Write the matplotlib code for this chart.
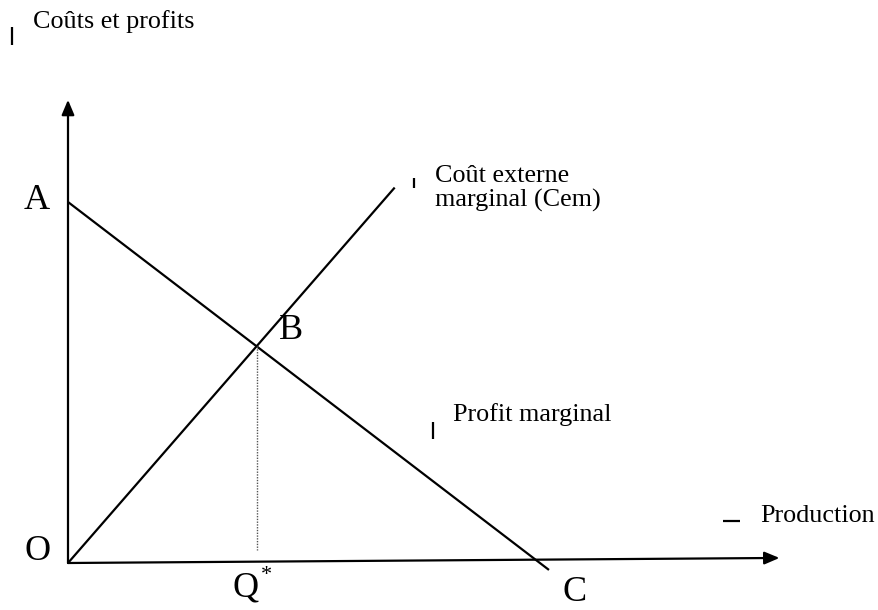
import matplotlib
matplotlib.use('Agg')
import matplotlib.pyplot as plt
import numpy as np

plt.rcParams['font.family'] = ['Liberation Serif', 'DejaVu Serif']

# diagram values (units: quantity on x, costs/profits on y)
profit_x = [0.0, 13.25]          # profit marginal : from A down to C (overshoots a little)
a_value = 10.0                   # A : intercept on the y axis
c_value = 13.0                   # C : intercept on the x axis
cem_x = [0.0, 9.0]               # Coût externe marginal
cem_y = [0.0, 10.4]
xaxis_end = (19.6, 0.14)         # horizontal axis is drawn slightly tilted
yaxis_end = (0.0, 12.83)

# pixel -> data helpers (layout only)
SX, SY = 36.3, 36.1
OX, OY = 68, 563
def px(x, y):
    return ((x - OX) / SX, (OY - y) / SY)

fig = plt.figure(figsize=(8.79, 6.10), dpi=100)
ax = fig.add_axes([0, 0, 1, 1])
ax.set_xlim(-OX / SX, (879 - OX) / SX)
ax.set_ylim((OY - 610) / SY, OY / SY)
ax.axis('off')

# axes with arrows
arrow = dict(arrowstyle='-|>,head_length=0.9,head_width=0.38', lw=1.6,
             color='black', shrinkA=0, shrinkB=0)
ax.annotate('', xy=yaxis_end, xytext=(0, 0), arrowprops=arrow)
ax.annotate('', xy=xaxis_end, xytext=(0, 0), arrowprops=arrow)

# curves
profit_x = np.array(profit_x)
profit_y = a_value - a_value / c_value * profit_x
ax.plot(profit_x, profit_y, color='black', lw=1.6, solid_capstyle='butt')
ax.plot(cem_x, cem_y, color='black', lw=1.6, solid_capstyle='butt')

# intersection B and Q*
slope_cem = cem_y[1] / cem_x[1]
q_star = a_value / (slope_cem + a_value / c_value)
b_val = slope_cem * q_star
ax.plot([q_star, q_star], [b_val, px(0, 550)[1]], color='#555555', lw=1.0,
        linestyle=(0, (1, 1)))

# labels
lab = dict(fontsize=18.8, va='baseline', ha='left')
big = dict(fontsize=26, va='baseline', ha='left')
ax.text(*px(33, 28), 'Coûts et profits', **lab)
ax.text(*px(435, 182), 'Coût externe', **lab)
ax.text(*px(435, 207), 'marginal (Cem)', **lab)
ax.text(*px(453, 421), 'Profit marginal', **lab)
ax.text(*px(760, 522), 'Production', **lab)

ax.text(*px(24, 209), 'A', **big)
ax.text(*px(279, 339), 'B', **big)
ax.text(*px(24, 560), 'O', **big)
ax.text(*px(562, 601), 'C', **big)
ax.text(*px(233, 597), 'Q', **big)
ax.text(*px(261, 580), '*', fontsize=16, va='baseline', ha='left')

# small stray marks from the original document
marks = [((12, 27), (12, 45)), ((414, 178), (414, 188)),
         ((433, 422), (433, 439)), ((723, 521), (740, 521))]
for p0, p1 in marks:
    a0, a1 = px(*p0), px(*p1)
    ax.plot([a0[0], a1[0]], [a0[1], a1[1]], color='black', lw=1.6,
            solid_capstyle='butt')

fig.savefig('out.png', dpi=100)
